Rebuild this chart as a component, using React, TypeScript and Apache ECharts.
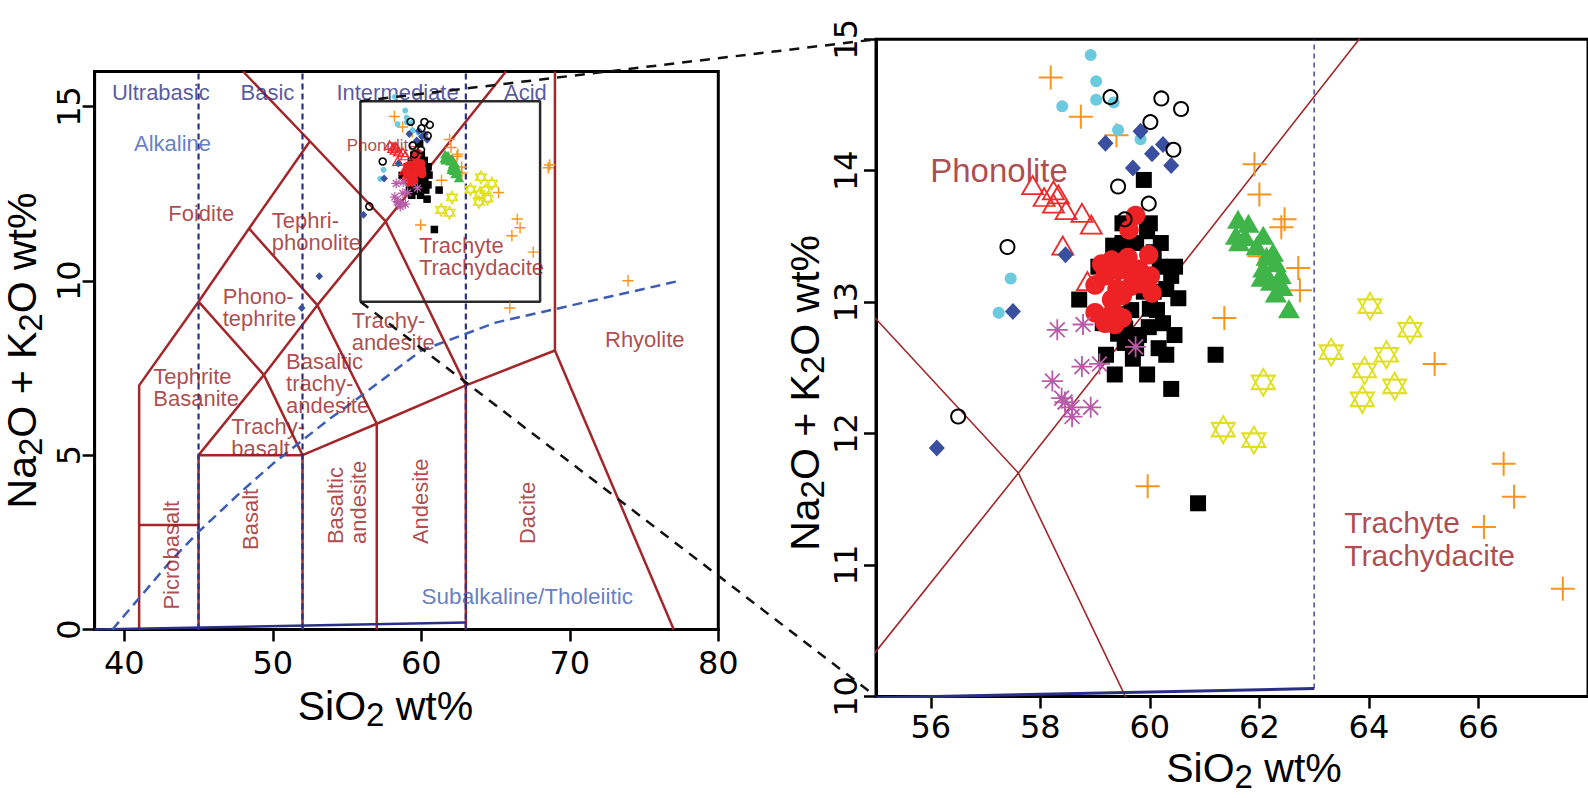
import React, { useEffect, useRef } from 'react';
import * as echarts from 'echarts';

// ---------- axis ranges and ticks ----------
const leftXRange = [38, 80];
const leftYRange = [0, 16];
const leftXTicks = [40, 50, 60, 70, 80];
const leftYTicks = [0, 5, 10, 15];
const rightXRange = [55, 68];
const rightYRange = [10, 15];
const rightXTicks = [56, 58, 60, 62, 64, 66];
const rightYTicks = [10, 11, 12, 13, 14, 15];

// ---------- TAS field boundaries (Le Bas et al.) ----------
const tasLines: number[][][] = [
  [[41, 0], [41, 7], [45, 9.4], [48.4, 11.5], [52.5, 14]],
  [[48, 16], [52.5, 14], [57.6, 11.7], [63, 7]],
  [[41, 3], [45, 3]],
  [[45, 0], [45, 5], [52, 5], [52, 0]],
  [[52, 5], [57, 5.9], [63, 7], [69, 8], [77, 0]],
  [[45, 5], [49.4, 7.3], [53, 9.3], [57.6, 11.7], [61, 13.5], [65.7, 16]],
  [[45, 9.4], [49.4, 7.3], [52, 5]],
  [[48.4, 11.5], [53, 9.3], [57, 5.9]],
  [[57, 0], [57, 5.9]],
  [[63, 0], [63, 7]],
  [[69, 8], [69, 16]],
];
const groupDividers = [45, 52, 63];
const leftBaseLine = [[38, 0], [63, 0.2]];
const rightBaseLine = [[55, 9.99], [63, 10.06]];
// Irvine & Baragar alkaline / subalkaline divide
const ibX = [39.2, 40, 43.2, 45, 48, 50, 53.7, 55, 60, 65, 77.4];
const ibY = [0, 0.4, 2, 2.8, 4, 4.75, 6, 6.4, 8, 8.8, 10];
// inset box drawn in the left panel
const insetX = [55.9, 68];
const insetY = [9.4, 15.15];

// ---------- samples ----------
const orangeCross = [
  [58.19, 14.71], [58.74, 14.41], [59.39, 14.27], [61.91, 14.05], [62.0, 13.82], [62.46, 13.63],
  [62.4, 13.57], [62.71, 13.26], [62.74, 13.09], [61.36, 12.88], [65.2, 12.53], [59.96, 11.6],
  [66.46, 11.77], [66.65, 11.52], [66.1, 11.29], [67.54, 10.82], [68.65, 13.32], [68.55, 13.24],
  [73.92, 10.0], [65.96, 9.22], [62.0, 13.35],
];
const blackSquare = [
  [59.89, 13.93], [59.95, 13.54], [59.33, 13.43], [60.07, 13.38], [60.46, 13.27], [59.06, 13.27],
  [58.71, 13.02], [60.52, 13.03], [60.39, 13.2], [60.13, 12.94], [59.98, 12.81], [59.42, 12.76],
  [60.16, 12.65], [59.69, 12.57], [59.36, 12.45], [60.39, 12.34], [59.54, 12.69], [59.14, 12.84],
  [59.89, 13.08], [59.66, 12.94], [60.24, 12.84], [60.07, 13.08], [59.36, 12.91], [60.18, 13.27],
  [61.2, 12.6], [60.88, 11.47], [60.2, 13.45], [59.8, 12.75],
  [59.5, 13.45], [59.75, 13.45], [60.3, 13.1], [60.0, 12.95], [59.55, 12.8], [59.2, 12.6],
  [59.75, 12.65], [60.3, 12.6], [60.45, 12.75], [59.95, 12.45], [60.0, 13.6], [59.5, 13.6],
];
const redCircle = [
  [59.74, 13.66], [59.62, 13.55], [59.98, 13.36], [59.3, 13.32], [59.6, 13.34], [59.18, 13.2],
  [60.01, 13.2], [59.0, 13.13], [59.42, 13.24], [59.65, 13.12], [60.04, 13.07], [59.3, 13.02],
  [59.33, 12.93], [59.0, 12.92], [59.36, 12.83], [59.18, 12.84], [59.5, 12.88], [59.83, 13.14],
  [59.6, 13.24], [59.12, 13.29], [59.5, 13.05], [59.8, 13.25], [59.4, 13.1],
];
const greenTriangle = [
  [61.61, 13.63], [61.8, 13.6], [61.57, 13.51], [61.74, 13.5], [61.63, 13.46], [62.07, 13.51],
  [61.95, 13.43], [62.25, 13.38], [62.13, 13.35], [62.3, 13.3], [62.07, 13.26], [62.39, 13.21],
  [62.04, 13.19], [62.21, 13.16], [62.42, 13.12], [62.3, 13.07], [62.54, 12.95],
];
const redOpenTriangle = [
  [57.86, 13.89], [58.07, 13.8], [58.24, 13.85], [58.33, 13.82], [58.24, 13.75], [58.47, 13.7],
  [58.76, 13.68], [58.93, 13.59], [58.41, 13.43], [58.86, 13.16],
];
const cyanCircle = [
  [58.92, 14.88], [59.02, 14.68], [59.02, 14.54], [58.4, 14.49], [59.34, 14.52], [59.42, 14.31],
  [59.83, 14.24], [57.46, 13.18], [57.24, 12.92], [58.23, 15.27],
];
const blueDiamond = [
  [59.19, 14.21], [59.83, 14.3], [60.04, 14.13], [60.24, 14.2], [60.39, 14.04], [59.69, 14.02],
  [58.46, 13.36], [57.5, 12.93], [56.11, 11.89], [53.13, 10.13], [51.95, 9.22],
];
const magentaAsterisk = [
  [58.31, 12.79], [58.78, 12.83], [59.74, 12.66], [58.76, 12.51], [59.08, 12.53], [58.22, 12.4],
  [58.39, 12.27], [58.58, 12.2], [58.92, 12.2], [58.58, 12.13], [58.45, 12.24],
];
const yellowStar = [
  [64.02, 12.97], [64.75, 12.79], [63.31, 12.62], [64.32, 12.6], [63.92, 12.48], [64.47, 12.36],
  [63.88, 12.26], [62.07, 12.39], [61.34, 12.03], [61.9, 11.95],
];
const blackOpenCircle = [
  [59.28, 14.56], [60.21, 14.55], [60.57, 14.47], [60.01, 14.37], [60.43, 14.16], [59.42, 13.88],
  [59.98, 13.75], [59.54, 13.63], [57.4, 13.42], [56.5, 12.13],
];

// ---------- labels ----------
const leftFieldLabels: [number, number, string][] = [
  [42.96, 11.92, 'Foidite'],
  [49.93, 11.4, 'Tephri-\nphonolite'],
  [46.63, 9.22, 'Phono-\ntephrite'],
  [41.95, 6.95, 'Tephrite\nBasanite'],
  [50.89, 7.05, 'Basaltic\ntrachy-\nandesite'],
  [47.2, 5.5, 'Trachy-\nbasalt'],
  [55.31, 8.55, 'Trachy-\nandesite'],
  [59.84, 10.7, 'Trachyte\nTrachydacite'],
  [72.37, 8.31, 'Rhyolite'],
];
const leftVerticalLabels: [number, number, string][] = [
  [43.17, 0.57, 'Picrobasalt'],
  [48.5, 2.28, 'Basalt'],
  [54.98, 2.45, 'Basaltic\nandesite'],
  [59.95, 2.45, 'Andesite'],
  [67.15, 2.45, 'Dacite'],
];
const groupLabels: [number, number, string][] = [
  [42.46, 15.4, 'Ultrabasic'],
  [49.64, 15.4, 'Basic'],
  [58.4, 15.4, 'Intermediate'],
  [67.01, 15.4, 'Acid'],
];
const alkalineLabel: [number, number, string][] = [[43.25, 13.94, 'Alkaline']];
const subalkalineLabel: [number, number, string][] = [[60.02, 0.94, 'Subalkaline/Tholeiitic']];
const leftSmallLabel: [number, number, string][] = [[54.98, 13.87, 'Phonolite']];
const rightPhonoliteLabel: [number, number, string][] = [[55.99, 14.0, 'Phonolite']];
const rightTrachyteLabel: [number, number, string][] = [[63.55, 11.2, 'Trachyte\nTrachydacite']];

const FONT = '"Liberation Sans", Arial, Helvetica, sans-serif';
const NUMFONT = '"DejaVu Sans", sans-serif';
const RED = '#a3262a';
const TEXTRED = '#9a1c22';
const NAVY = '#2b2f86';
const BLUE = '#3d5db5';

const PLUS = 'path://M10,0 L10,20 M0,10 L20,10';
const ASTER = 'path://M10,0 L10,20 M0,10 L20,10 M2.93,2.93 L17.07,17.07 M17.07,2.93 L2.93,17.07';
const DAVID = 'path://M10,0 L18.66,15 L1.34,15 Z M10,20 L18.66,5 L1.34,5 Z';
const CLEAR = 'rgba(0,0,0,0)';

function lineSeries(grid: number, data: number[][], color: string, width: number, type: any = 'solid', z = 2) {
  return {
    type: 'line', xAxisIndex: grid, yAxisIndex: grid, data, symbol: 'none', showSymbol: false,
    silent: true, clip: true, z, lineStyle: { color, width, type, cap: 'butt' },
  };
}

function textSeries(grid: number, items: [number, number, string][], label: any) {
  return {
    type: 'scatter', xAxisIndex: grid, yAxisIndex: grid, symbol: 'circle', symbolSize: 1,
    silent: true, z: 3, clip: false, itemStyle: { color: CLEAR },
    data: items.map(([x, y, t]) => ({ value: [x, y], name: t })),
    label: {
      show: true, position: 'inside', formatter: (p: any) => p.name, fontFamily: FONT,
      verticalAlign: 'middle', ...label,
    },
  };
}

function pointSeries(grid: number, data: number[][], symbol: string, size: any, fill: string, stroke: string, bw: number) {
  return {
    type: 'scatter', xAxisIndex: grid, yAxisIndex: grid, data, symbol, symbolSize: size,
    silent: true, z: 4, clip: true,
    itemStyle: { color: fill, borderColor: stroke, borderWidth: bw, opacity: 1 },
  };
}

function markerSet(grid: number, big: boolean) {
  const k = big ? 1 : 0.47;
  const s = (v: number) => v * k;
  const w = (v: number) => (big ? v : Math.max(1.1, v * 0.7));
  return [
    pointSeries(grid, orangeCross, PLUS, [s(24), s(24)], CLEAR, '#f7941d', w(2)),
    pointSeries(grid, blackSquare, 'rect', s(16), '#000', '#000', 0),
    pointSeries(grid, redCircle, 'circle', s(19.5), '#ed2224', '#ed2224', 0),
    pointSeries(grid, greenTriangle, 'triangle', [s(22), s(19)], '#3fb549', '#3fb549', 0),
    pointSeries(grid, redOpenTriangle, 'triangle', [s(21), s(18)], CLEAR, '#ee2a2a', w(1.8)),
    pointSeries(grid, cyanCircle, 'circle', big ? 12 : 6, '#6ccadf', '#6ccadf', 0),
    pointSeries(grid, blueDiamond, 'diamond', [s(16), s(17)], '#3b4fa0', '#3b4fa0', 0),
    pointSeries(grid, magentaAsterisk, ASTER, [s(21), s(21)], CLEAR, '#b85ba9', w(1.8)),
    pointSeries(grid, yellowStar, DAVID, [s(23), s(27)], CLEAR, '#e0e020', w(2)),
    pointSeries(grid, blackOpenCircle, 'circle', big ? 14 : 7, CLEAR, '#000', big ? 2 : 1.6),
  ];
}

function buildOption() {
  const series: any[] = [];
  // red field boundaries
  tasLines.forEach((l) => series.push(lineSeries(0, l, RED, 2.5)));
  tasLines.forEach((l) => series.push(lineSeries(1, l, RED, 1.6)));
  // navy group dividers
  groupDividers.forEach((x) => series.push(lineSeries(0, [[x, leftYRange[0]], [x, leftYRange[1]]], NAVY, 2.2, [6, 4], 2)));
  groupDividers.forEach((x) => series.push(lineSeries(1, [[x, rightBaseLine[1][1]], [x, rightYRange[1]]], NAVY, 1.3, [5, 4], 2)));
  series.push(lineSeries(0, leftBaseLine, NAVY, 2.5));
  series.push(lineSeries(1, rightBaseLine, NAVY, 3));
  // Irvine-Baragar divide
  series.push(lineSeries(0, ibX.map((x, i) => [x, ibY[i]]), BLUE, 2.5, [10, 6]));
  // inset box
  series.push(lineSeries(0, [
    [insetX[0], insetY[0]], [insetX[1], insetY[0]], [insetX[1], insetY[1]], [insetX[0], insetY[1]], [insetX[0], insetY[0]],
  ], '#2a2a2a', 2.5, 'solid', 3));

  // labels
  series.push(textSeries(0, leftFieldLabels, { color: TEXTRED, fontSize: 22, align: 'left', lineHeight: 22 }));
  series.push(textSeries(0, leftVerticalLabels, { color: TEXTRED, fontSize: 22, align: 'left', lineHeight: 23, rotate: 90 }));
  series.push(textSeries(0, groupLabels, { color: NAVY, fontSize: 22, align: 'center' }));
  series.push(textSeries(0, alkalineLabel, { color: BLUE, fontSize: 22, align: 'center' }));
  series.push(textSeries(0, subalkalineLabel, { color: BLUE, fontSize: 22.5, align: 'left' }));
  series.push(textSeries(0, leftSmallLabel, { color: TEXTRED, fontSize: 17, align: 'left' }));
  series.push(textSeries(1, rightPhonoliteLabel, { color: TEXTRED, fontSize: 33, align: 'left' }));
  series.push(textSeries(1, rightTrachyteLabel, { color: TEXTRED, fontSize: 30, align: 'left', lineHeight: 33 }));

  // samples
  series.push(...markerSet(0, false));
  series.push(...markerSet(1, true));

  const subRich = { sub: { fontSize: 33, fontFamily: FONT, padding: [16, 0, 0, 0] } };
  const axisCommon = (name: string) => ({
    type: 'value',
    name,
    nameLocation: 'middle',
    axisLine: { show: true, onZero: false, lineStyle: { color: '#000', width: 3 } },
    splitLine: { show: false },
  });
  const tick = (values: number[]) => ({
    show: true, inside: false, length: 12, customValues: values, lineStyle: { color: '#000', width: 2.5 },
  });
  const xName = 'SiO{sub|2} wt%';
  const yName = 'Na{sub|2}O + K{sub|2}O wt%';

  return {
    animation: false,
    backgroundColor: '#fff',
    textStyle: { fontFamily: FONT },
    grid: [
      { left: 94.6, top: 71.5, width: 623.7, height: 558, show: true, borderColor: '#000', borderWidth: 3, backgroundColor: CLEAR },
      { left: 876, top: 39.3, width: 734.5, height: 657.2, show: true, borderColor: '#000', borderWidth: 3, backgroundColor: CLEAR },
    ],
    xAxis: [
      {
        ...axisCommon(xName), gridIndex: 0, min: leftXRange[0], max: leftXRange[1], nameGap: 52,
        nameTextStyle: { fontSize: 41, color: '#000', fontFamily: FONT, padding: [0, 42, 0, 0], rich: subRich },
        axisTick: tick(leftXTicks),
        axisLabel: { customValues: leftXTicks, fontSize: 32, fontFamily: NUMFONT, color: '#000', margin: 17 },
      },
      {
        ...axisCommon(xName), gridIndex: 1, min: rightXRange[0], max: rightXRange[1], nameGap: 47,
        nameTextStyle: { fontSize: 41, color: '#000', fontFamily: FONT, padding: [0, 0, 0, 44], rich: subRich },
        axisTick: tick(rightXTicks),
        axisLabel: { customValues: rightXTicks, fontSize: 32, fontFamily: NUMFONT, color: '#000', margin: 14 },
      },
    ],
    yAxis: [
      {
        ...axisCommon(yName), gridIndex: 0, min: leftYRange[0], max: leftYRange[1], nameGap: 48,
        nameTextStyle: { fontSize: 41, color: '#000', fontFamily: FONT, rich: subRich },
        axisTick: tick(leftYTicks),
        axisLabel: { customValues: leftYTicks, rotate: 90, fontSize: 32, fontFamily: NUMFONT, color: '#000', margin: 10 },
      },
      {
        ...axisCommon(yName), gridIndex: 1, min: rightYRange[0], max: rightYRange[1], nameGap: 46,
        nameTextStyle: { fontSize: 41, color: '#000', fontFamily: FONT, padding: [0, 50, 0, 0], rich: subRich },
        axisTick: tick(rightYTicks),
        axisLabel: { customValues: rightYTicks, rotate: 90, fontSize: 32, fontFamily: NUMFONT, color: '#000', margin: 14 },
      },
    ],
    series,
  };
}

export default function App() {
  const ref = useRef<HTMLDivElement>(null);
  useEffect(() => {
    if (!ref.current) return;
    const chart = echarts.init(ref.current, null, { renderer: 'svg' });
    chart.setOption(buildOption() as any);
    const a1 = chart.convertToPixel({ gridIndex: 0 } as any, [insetX[0], insetY[1]]) as number[];
    const a2 = chart.convertToPixel({ gridIndex: 0 } as any, [insetX[0], insetY[0]]) as number[];
    const b1 = chart.convertToPixel({ gridIndex: 1 } as any, [rightXRange[0], rightYRange[1]]) as number[];
    const b2 = chart.convertToPixel({ gridIndex: 1 } as any, [rightXRange[0], rightYRange[0]]) as number[];
    const dash = { stroke: '#111', lineWidth: 2.5, lineDash: [10, 8] };
    chart.setOption({
      graphic: [
        { type: 'line', z: 100, silent: true, shape: { x1: a1[0], y1: a1[1], x2: b1[0], y2: b1[1] }, style: dash },
        { type: 'line', z: 100, silent: true, shape: { x1: a2[0], y1: a2[1], x2: b2[0], y2: b2[1] }, style: dash },
      ],
    });
    return () => chart.dispose();
  }, []);
  return (
    <div
      ref={ref}
      style={{ position: 'fixed', left: 0, top: 0, width: 1588, height: 798, background: '#fff', overflow: 'hidden' }}
    />
  );
}
